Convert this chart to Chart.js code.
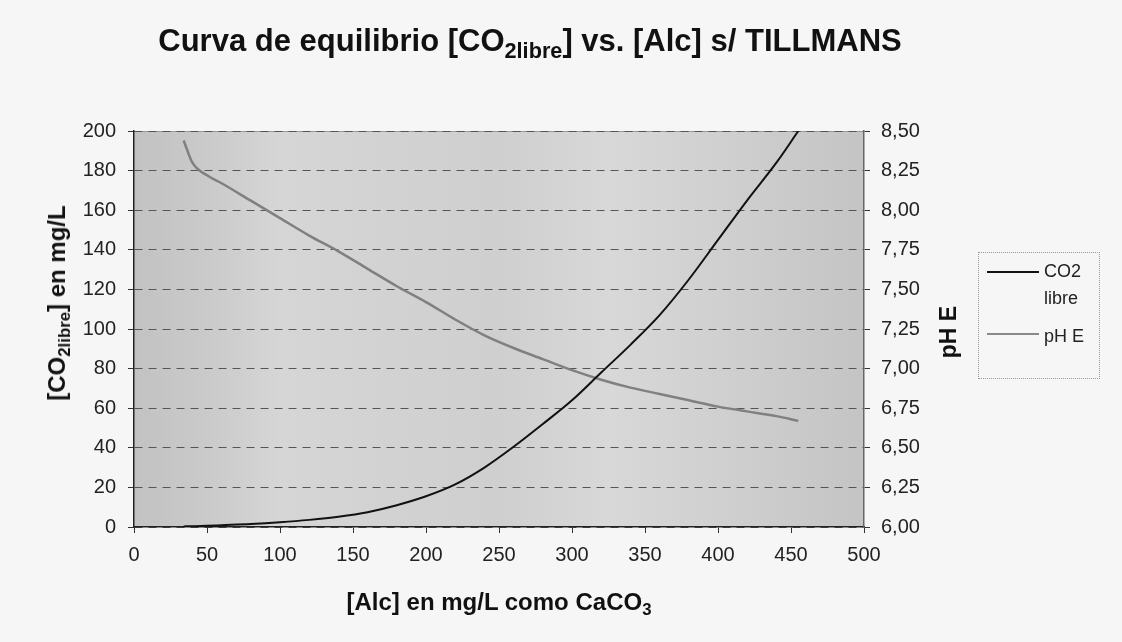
<!DOCTYPE html>
<html>
<head>
<meta charset="utf-8">
<script src="https://cdn.jsdelivr.net/npm/chart.js@4/dist/chart.umd.min.js"></script>
<style>
  html,body{margin:0;padding:0;background:#f6f6f6;}
  #wrap{position:relative;width:1122px;height:642px;font-family:"Liberation Sans",Arial,sans-serif;color:#111;}
  canvas{position:absolute;left:0;top:0;}
  .t{position:absolute;font-weight:bold;white-space:nowrap;line-height:1;}
  #title{left:0;width:1060px;text-align:center;top:25px;font-size:31px;}
  #xtitle{left:134px;width:730px;text-align:center;top:590px;font-size:24px;}
  #ytitle{left:57px;top:303px;font-size:24px;transform:translate(-50%,-50%) rotate(-90deg);}
  #y2title{left:948px;top:332px;font-size:23px;transform:translate(-50%,-50%) rotate(-90deg);}
  sub{font-size:70%;vertical-align:-0.3em;line-height:0;}
  #legend{position:absolute;left:978px;top:252px;width:120px;height:125px;border:1px dotted #999;font-size:18px;color:#222;}
  .ln{position:absolute;left:8px;width:52px;}
  .lt{position:absolute;left:65px;line-height:27px;white-space:nowrap;}
</style>
</head>
<body>
<div id="wrap">
  <canvas id="c" width="1122" height="642"></canvas>
  <div id="title" class="t">Curva de equilibrio [CO<sub>2libre</sub>] vs. [Alc] s/ TILLMANS</div>
  <div id="xtitle" class="t">[Alc] en mg/L como CaCO<sub>3</sub></div>
  <div id="ytitle" class="t">[CO<sub>2libre</sub>] en mg/L</div>
  <div id="y2title" class="t">pH E</div>
  <div id="legend">
    <div class="ln" style="top:18px;border-top:2px solid #111;"></div><div class="lt" style="top:5px;">CO2<br>libre</div>
    <div class="ln" style="top:80px;border-top:2px solid #888;"></div><div class="lt" style="top:70px;">pH E</div>
  </div>
</div>
<script>
// Data
const alc = [34, 40, 50, 60, 80, 100, 120, 140, 160, 180, 200, 220, 240, 260, 280, 300, 320, 340, 360, 380, 400, 420, 440, 455];
const co2Libre = [0.3, 0.4, 0.6, 0.9, 1.5, 2.4, 3.6, 5.2, 7.5, 11, 15.5, 21.5, 30, 40.5, 52, 64, 78, 92, 107, 125, 145, 165, 184, 200];
const phE = [8.44, 8.30, 8.22, 8.17, 8.06, 7.95, 7.84, 7.74, 7.63, 7.52, 7.42, 7.31, 7.21, 7.13, 7.06, 6.99, 6.93, 6.88, 6.84, 6.80, 6.76, 6.73, 6.70, 6.67];
const xTicks = [0, 50, 100, 150, 200, 250, 300, 350, 400, 450, 500];
const seriesNames = ["CO2 libre", "pH E"];

const bgPlugin = {
  id: 'bg',
  beforeDraw(chart) {
    const {ctx, chartArea: a} = chart;
    const g = ctx.createLinearGradient(a.left, 0, a.right, 0);
    g.addColorStop(0, '#c2c2c2');
    g.addColorStop(0.1, '#cacaca');
    g.addColorStop(0.2, '#d6d6d6');
    g.addColorStop(0.35, '#d2d2d2');
    g.addColorStop(0.5, '#cfcfcf');
    g.addColorStop(0.65, '#d8d8d8');
    g.addColorStop(0.8, '#d0d0d0');
    g.addColorStop(1, '#c4c4c4');
    ctx.save();
    ctx.fillStyle = g;
    ctx.fillRect(a.left, a.top, a.right - a.left, a.bottom - a.top);
    ctx.strokeStyle = '#999';
    ctx.lineWidth = 1;
    ctx.beginPath();
    ctx.moveTo(a.left, a.top + 0.5);
    ctx.lineTo(a.right, a.top + 0.5);
    ctx.stroke();
    ctx.restore();
  }
};

const tickFont = {family: '"Liberation Sans", Arial, sans-serif', size: 20};

new Chart(document.getElementById('c'), {
  type: 'line',
  data: {
    datasets: [
      {label: seriesNames[0], data: alc.map((x, i) => ({x, y: co2Libre[i]})), borderColor: '#111', borderWidth: 2, pointRadius: 0, cubicInterpolationMode: 'monotone', yAxisID: 'y'},
      {label: seriesNames[1], data: alc.map((x, i) => ({x, y: phE[i]})), borderColor: '#808080', borderWidth: 2.5, pointRadius: 0, cubicInterpolationMode: 'monotone', yAxisID: 'y1'}
    ]
  },
  options: {
    responsive: false,
    animation: false,
    layout: {padding: {top: 131, left: 0, right: 0, bottom: 0}},
    plugins: {legend: {display: false}, tooltip: {enabled: false}},
    scales: {
      x: {
        type: 'linear', min: 0, max: 500,
        afterBuildTicks(s) { s.ticks = xTicks.map(v => ({value: v})); },
        afterFit(s) { s.height = 115; },
        ticks: {font: tickFont, color: '#222', padding: 10, maxRotation: 0},
        grid: {drawOnChartArea: false, drawTicks: true, tickLength: 6, color: '#333'},
        border: {color: '#222', width: 1.5}
      },
      y: {
        position: 'left', min: 0, max: 200,
        afterFit(s) { s.width = 134; },
        ticks: {stepSize: 20, font: tickFont, color: '#222', padding: 12},
        grid: {drawOnChartArea: true, drawTicks: true, tickLength: 6, color: '#555', lineWidth: 1, tickColor: '#333'},
        border: {color: '#222', width: 1.5, dash: [8, 6]}
      },
      y1: {
        position: 'right', min: 6, max: 8.5,
        afterFit(s) { s.width = 258; },
        ticks: {stepSize: 0.25, font: tickFont, color: '#222', padding: 11,
          callback: v => v.toFixed(2).replace('.', ',')},
        grid: {drawOnChartArea: false, drawTicks: true, tickLength: 6, color: '#333'},
        border: {color: '#666', width: 1.5}
      }
    }
  },
  plugins: [bgPlugin]
});
</script>
</body>
</html>
